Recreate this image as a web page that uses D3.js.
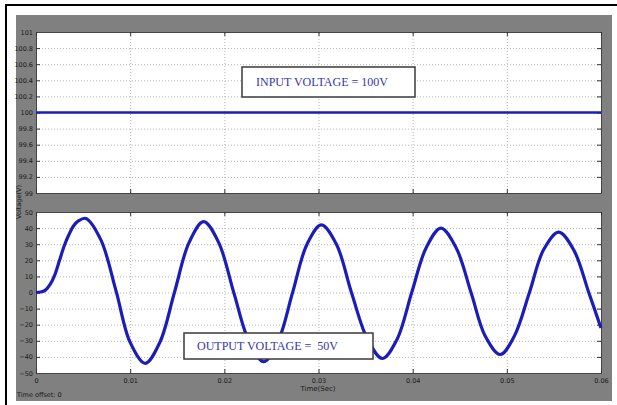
<!DOCTYPE html>
<html>
<head>
<meta charset="utf-8">
<script src="https://cdn.jsdelivr.net/npm/d3@7"></script>
<style>
  body { margin: 0; background: #fff; }
  .tick text { font-family: "DejaVu Sans", sans-serif; font-size: 6.5px; fill: #1a1a1a; }
  .grid line { stroke: #b5b5b5; stroke-dasharray: 1,2; }
  .grid .domain { display: none; }
</style>
</head>
<body>
<div id="my_graphic"></div>
<script>
// x ticks (time, s) and y ticks of both scope panels
var time_ticks = [0, 0.01, 0.02, 0.03, 0.04, 0.05, 0.06];
var time_labels = ['0', '0.01', '0.02', '0.03', '0.04', '0.05', '0.06'];
var in_ticks = [99, 99.2, 99.4, 99.6, 99.8, 100, 100.2, 100.4, 100.6, 100.8, 101];
var out_ticks = [-50, -40, -30, -20, -10, 0, 10, 20, 30, 40, 50];

// input voltage (flat dc)
var in_time = [0, 0.06];
var in_volt = [100, 100];

// output voltage
var out_time = [0, 0.0005, 0.001, 0.0015, 0.002, 0.0025, 0.003, 0.0035, 0.004, 0.0045, 0.0053,
    0.0069, 0.0085, 0.0100, 0.0116,
    0.01315, 0.0147, 0.01625, 0.0178,
    0.0194, 0.0210, 0.0226, 0.0242,
    0.02573, 0.02725, 0.02878, 0.0303,
    0.0319, 0.0335, 0.0352, 0.0368,
    0.03835, 0.0399, 0.04145, 0.0430,
    0.0446, 0.0462, 0.0477, 0.0493,
    0.0508, 0.0524, 0.0539, 0.0555,
    0.0571, 0.0587, 0.06];
var out_volt = [0, 0.3, 1.5, 5, 11, 20, 29, 36, 41.5, 44.5, 46,
    32.5, 1, -31, -44,
    -31, 0, 31, 44,
    31, 0, -30, -43,
    -30, 0, 30, 42,
    30, 0, -29, -41,
    -29, 0, 28, 40,
    28, 0, -27, -38.5,
    -27, 0, 26.5, 37.5,
    26.5, 0, -22];

draw_plot();

function draw_plot() {
    const W = 617, H = 405;
    const svg = d3.select("#my_graphic")
        .append("svg")
        .attr("width", W)
        .attr("height", H);

    // page frame lines
    svg.append("line").attr("x1", 5).attr("x2", W).attr("y1", 5).attr("y2", 5)
        .attr("stroke", "#000").attr("stroke-width", 2);
    svg.append("line").attr("x1", 6).attr("x2", 6).attr("y1", 4).attr("y2", H)
        .attr("stroke", "#000").attr("stroke-width", 2);

    // scope grey background
    svg.append("rect").attr("x", 16).attr("y", 15).attr("width", 596).attr("height", 386)
        .attr("fill", "#808080");

    const left = 36, right = 601;
    const x = d3.scaleLinear().domain([0, 0.06]).range([left, right]);

    const panels = [
        {top: 32, bottom: 193, domain: [99, 101], ticks: in_ticks, t: in_time, v: in_volt, labels: false, sw: 2.6},
        {top: 212, bottom: 373, domain: [-50, 50], ticks: out_ticks, t: out_time, v: out_volt, labels: true, sw: 3.2}
    ];

    panels.forEach(function(p) {
        const y = d3.scaleLinear().domain(p.domain).range([p.bottom, p.top]);
        const g = svg.append("g");
        const w = right - left, h = p.bottom - p.top;

        g.append("rect").attr("x", left).attr("y", p.top).attr("width", w).attr("height", h)
            .attr("fill", "#fff");

        // grid
        g.append("g").attr("class", "grid")
            .attr("transform", `translate(${left},0)`)
            .call(d3.axisLeft(y).tickValues(p.ticks).tickSize(-w).tickFormat(""));
        g.append("g").attr("class", "grid")
            .attr("transform", `translate(0,${p.bottom})`)
            .call(d3.axisBottom(x).tickValues(time_ticks).tickSize(-h).tickFormat(""));

        // tick marks + labels
        g.append("g")
            .attr("transform", `translate(${left},0)`)
            .call(d3.axisLeft(y).tickValues(p.ticks).tickSizeInner(-4).tickSizeOuter(0).tickPadding(3)
                .tickFormat(d3.format("")));
        g.append("g")
            .attr("transform", `translate(${right},0)`)
            .call(d3.axisRight(y).tickValues(p.ticks).tickSizeInner(-4).tickSizeOuter(0).tickFormat(""));
        g.append("g")
            .attr("transform", `translate(0,${p.bottom})`)
            .call(d3.axisBottom(x).tickValues(time_ticks).tickSizeInner(-4).tickSizeOuter(0).tickPadding(5)
                .tickFormat((d, i) => p.labels ? time_labels[i] : ""));
        g.append("g")
            .attr("transform", `translate(0,${p.top})`)
            .call(d3.axisTop(x).tickValues(time_ticks).tickSizeInner(-4).tickSizeOuter(0).tickFormat(""));
        g.selectAll(".tick line").attr("stroke", "#333");
        g.selectAll(".domain").attr("stroke", "#444");

        // trace
        const line = d3.line()
            .x((d, i) => x(p.t[i]))
            .y((d, i) => y(p.v[i]))
            .curve(d3.curveCatmullRom.alpha(0.5));
        g.append("path")
            .datum(p.v)
            .attr("fill", "none")
            .attr("stroke", "#1c1cb8")
            .attr("stroke-width", p.sw)
            .attr("stroke-linejoin", "round")
            .attr("d", line);
    });

    // annotation boxes
    const notes = [
        {x: 242, y: 67, w: 173, h: 30, text: "INPUT VOLTAGE = 100V", tx: 256},
        {x: 184, y: 333, w: 189, h: 26, text: "OUTPUT VOLTAGE =  50V", tx: 197}
    ];
    notes.forEach(function(n) {
        svg.append("rect").attr("x", n.x).attr("y", n.y).attr("width", n.w).attr("height", n.h)
            .attr("fill", "#fff").attr("stroke", "#3a3a3a").attr("stroke-width", 1.5);
        svg.append("text").attr("x", n.tx).attr("y", n.y + n.h / 2)
            .attr("dy", "0.35em")
            .style("font-family", "Liberation Serif, serif")
            .style("font-size", "12px")
            .style("white-space", "pre")
            .attr("fill", "#3434b4")
            .text(n.text);
    });

    // axis titles
    svg.append("text")
        .attr("transform", "translate(21,202) rotate(-90)")
        .style("text-anchor", "middle")
        .style("font-family", "DejaVu Sans, sans-serif")
        .style("font-size", "6.5px")
        .attr("fill", "#1a1a1a")
        .text("Voltage(V)");
    svg.append("text")
        .attr("x", 318).attr("y", 391)
        .style("text-anchor", "middle")
        .style("font-family", "DejaVu Sans, sans-serif")
        .style("font-size", "7px")
        .attr("fill", "#1a1a1a")
        .text("Time(Sec)");
    svg.append("text")
        .attr("x", 17).attr("y", 397)
        .style("font-family", "DejaVu Sans, sans-serif")
        .style("font-size", "6.5px")
        .attr("fill", "#1a1a1a")
        .text("Time offset: 0");
}
</script>
</body>
</html>
